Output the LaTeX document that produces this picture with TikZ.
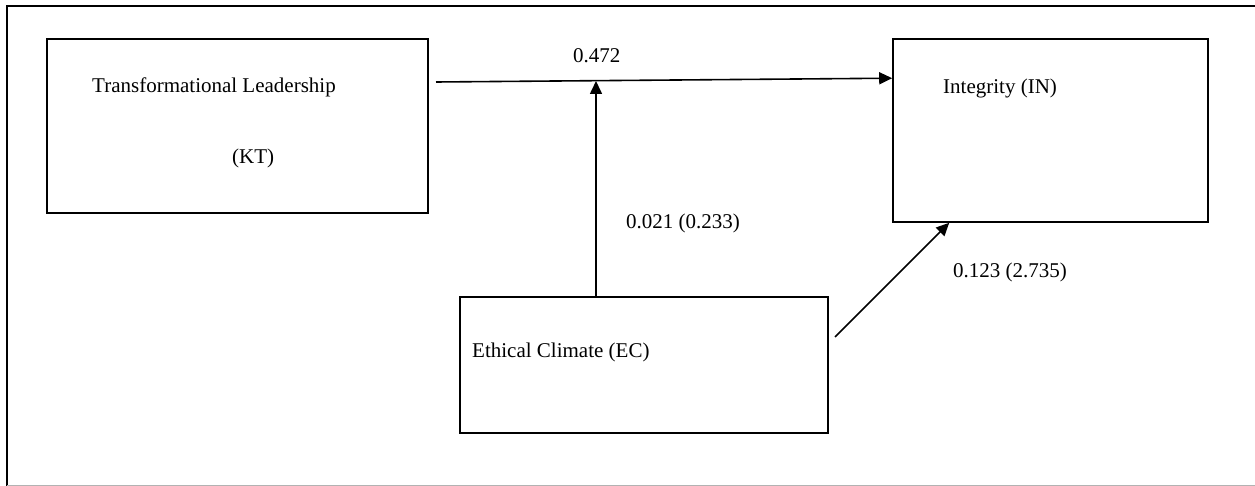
\documentclass[tikz,border=0pt]{standalone}
\usepackage{fontspec}
\setmainfont{Liberation Serif}
\usetikzlibrary{arrows.meta}
\tikzset{
  box/.style={draw, line width=1.6pt, inner sep=0pt},
  conn/.style={line width=1.6pt, -{Triangle[length=13pt,width=12pt]}},
  lbl/.style={inner sep=0pt, anchor=west, font=\fontsize{21}{25}\selectfont}
}
\begin{document}
\begin{tikzpicture}[x=1pt,y=-1pt]
  \useasboundingbox (0,0) rectangle (1255,486);
  %Frame
  \draw [line width=1.6pt] (7,486) -- (7,6) -- (1262,6);
  \draw [gray!60, line width=1pt] (7,485) -- (1262,485);
  %Boxes
  \node [box, minimum width=381pt, minimum height=174pt] (kt) at (237.5,126) {};
  \node [box, minimum width=315pt, minimum height=183pt] (in) at (1050.5,130.5) {};
  \node [box, minimum width=368pt, minimum height=136pt] (ec) at (644,365) {};
  %Free ends
  \coordinate (ktout) at (436,82);
  \coordinate (mod) at (596,81);
  \coordinate (ecout) at (835,337);
  %Connectors
  \draw [conn] (ktout) -- ([yshift=-40pt]in.north west);
  \draw [conn] (ec.north -| mod) -- (mod);
  \draw [conn] (ecout) -- ([xshift=57pt]in.south west);
  % Text Node
  \node [lbl] (ktname) at (92,87) {Transformational Leadership};
  \node [lbl] (ktabbr) at (232,158) {(KT)};
  \node [lbl] (inname) at (943,88) {Integrity (IN)};
  \node [lbl] (ecname) at (472,352) {Ethical Climate (EC)};
  \node [lbl] (pdirect) at (573,56) {0.472};
  \node [lbl] (pmod) at (626,223) {0.021 (0.233)};
  \node [lbl] (pec) at (953,272) {0.123 (2.735)};
\end{tikzpicture}
\end{document}
